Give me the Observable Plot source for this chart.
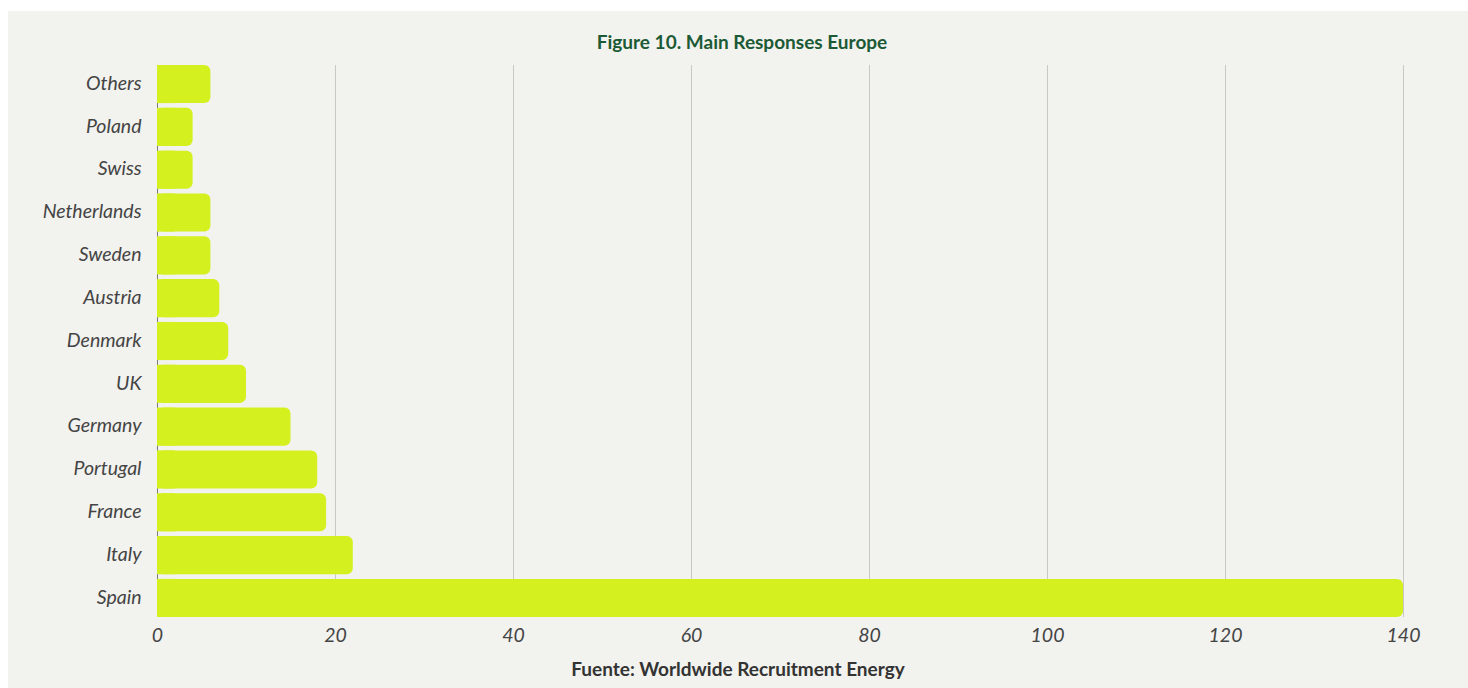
<!DOCTYPE html>
<html>
<head>
<meta charset="utf-8">
<script src="https://cdn.jsdelivr.net/npm/d3@7"></script>
<script src="https://cdn.jsdelivr.net/npm/@observablehq/plot@0.6"></script>
<style>
  html, body { margin: 0; padding: 0; background: #ffffff; }
  #panel {
    position: absolute; left: 8px; top: 11px; width: 1460px; height: 677px;
    background: #f2f2ee; font-family: Lato, sans-serif;
  }
  #title {
    box-sizing: border-box; height: 54px; padding-top: 21px; line-height: 20px;
    text-align: center; font-weight: 700; font-size: 19px; color: #1b5a35;
    padding-left: 8px;
  }
  #caption {
    height: 34px; line-height: 34px; text-align: center;
    font-weight: 700; font-size: 19px; color: #333;
  }
  svg { display: block; }
</style>
</head>
<body>
<div id="panel">
  <div id="title">Figure 10. Main Responses Europe</div>
  <div id="chart"></div>
  <div id="caption">Fuente: Worldwide Recruitment Energy</div>
</div>
<script>
const countries = ["Others", "Poland", "Swiss", "Netherlands", "Sweden", "Austria", "Denmark", "UK", "Germany", "Portugal", "France", "Italy", "Spain"];
const responses = [6, 4, 4, 6, 6, 7, 8, 10, 15, 18, 19, 22, 140];
const xTicks = [0, 20, 40, 60, 80, 100, 120, 140];

const data = countries.map((c, i) => ({country: c, value: responses[i]}));
const barColor = "#d4f01e";

const chart = Plot.plot({
  width: 1460,
  height: 587,
  marginTop: 0,
  marginBottom: 35,
  marginLeft: 149,
  marginRight: 65,
  style: {background: "transparent", fontFamily: "Lato, sans-serif"},
  x: {domain: [0, 140], ticks: xTicks, label: null},
  y: {domain: countries, label: null, paddingInner: 0.11, paddingOuter: 0, round: false},
  marks: [
    Plot.ruleX(xTicks.filter(t => t > 0), {stroke: "#c8c8c4", strokeWidth: 1}),
    Plot.ruleX([0], {stroke: "#7a7a7a", strokeWidth: 1}),
    Plot.barX(data, {y: "country", x: "value", fill: barColor, rx: 6}),
    Plot.barX(data, {y: "country", x1: 0, x2: d => Math.min(d.value, 2), fill: barColor}),
    Plot.axisX({ticks: xTicks, tickSize: 0, tickPadding: 11, fontSize: 19.5, fontStyle: "italic", fill: "#444", label: null}),
    Plot.axisY({tickSize: 0, tickPadding: 16, fontSize: 19.5, fontStyle: "italic", fill: "#444", label: null, dy: -1})
  ]
});
document.getElementById("chart").appendChild(chart);
</script>
</body>
</html>
